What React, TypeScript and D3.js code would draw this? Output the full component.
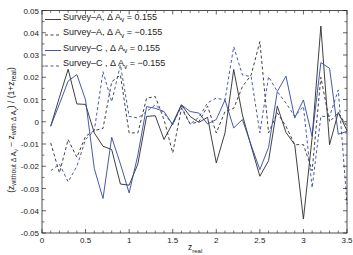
import React from "react";
import * as d3 from "d3";

const zReal = [0.1,0.2,0.3,0.4,0.5,0.6,0.7,0.8,0.9,1.0,1.1,1.2,1.3,1.4,1.5,1.6,1.7,1.8,1.9,2.0,2.1,2.2,2.3,2.4,2.5,2.6,2.7,2.8,2.9,3.0,3.1,3.2,3.3,3.4,3.5];

const surveyAPlus = [-0.002,0.011,0.0236,0.008,0.0078,-0.005,-0.011,-0.0125,-0.028,-0.0285,-0.019,0.0024,0.0027,-0.008,-0.0006,0.0076,0.0024,-0.0003,0.002,-0.0185,-0.005,0.0235,0.003,-0.011,-0.0245,-0.0175,0.007,-0.0048,-0.0103,-0.0437,-0.007,0.043,-0.0103,0.0042,-0.004];
const surveyAMinus = [-0.0095,-0.023,-0.008,-0.016,-0.0065,-0.004,-0.003,0.018,0.021,-0.005,-0.005,0.0106,0.0113,0.001,-0.014,0.006,-0.001,0.0,0.007,-0.005,0.0046,0.006,0.0158,0.021,0.036,-0.005,0.004,-0.002,-0.0103,-0.0103,-0.022,0.02,0.0,0.004,-0.002];
const surveyCPlus = [-0.002,0.008,0.0183,0.0212,0.0098,-0.021,-0.0345,-0.007,-0.019,-0.032,-0.015,0.0068,0.006,0.0046,-0.0013,0.0076,0.0046,0.0039,-0.001,0.001,0.0098,-0.0028,0.001,-0.0105,-0.0215,-0.0115,0.0136,0.0205,0.0017,0.0098,-0.0066,0.0266,0.024,-0.0056,-0.0043];
const surveyCMinus = [-0.022,-0.019,-0.027,-0.02,-0.008,-0.004,0.0225,0.009,0.0255,0.0024,0.0017,0.0046,0.0076,0.0039,-0.0013,0.0069,-0.001,0.002,0.0085,0.0106,0.0098,0.0337,0.021,0.0203,-0.005,0.0203,0.0136,0.0084,0.0024,0.0069,-0.0297,0.0024,0.0024,0.0143,-0.037];

const xTicks = [0, 0.5, 1, 1.5, 2, 2.5, 3, 3.5];
const xTickLabels = ["0", "0.5", "1", "1.5", "2", "2.5", "3", "3.5"];
const xMinorTicks = [0.1,0.2,0.3,0.4,0.6,0.7,0.8,0.9,1.1,1.2,1.3,1.4,1.6,1.7,1.8,1.9,2.1,2.2,2.3,2.4,2.6,2.7,2.8,2.9,3.1,3.2,3.3,3.4];
const yTicks = [-0.05,-0.04,-0.03,-0.02,-0.01,0,0.01,0.02,0.03,0.04,0.05];
const yTickLabels = ["-0.05","-0.04","-0.03","-0.02","-0.01","0","0.01","0.02","0.03","0.04","0.05"];
const yMinorTicks = [-0.045,-0.035,-0.025,-0.015,-0.005,0.005,0.015,0.025,0.035,0.045];

const seriesNames = ["Survey\u2013A, \u0394 A", "Survey\u2013A, \u0394 A", "Survey\u2013C , \u0394 A", "Survey\u2013C , \u0394 A"];
const seriesValues = ["= 0.155", "= \u22120.155", "= 0.155", "= \u22120.155"];

const BLACK = "#2a2a2a";
const BLUE = "#3446a0";

export default function App() {
  const W = 353, H = 255;
  const left = 42, right = 347, top = 10.5, bottom = 233;
  const x = d3.scaleLinear().domain([0, 3.5]).range([left, right]);
  const y = d3.scaleLinear().domain([-0.05, 0.05]).range([bottom, top]);
  const line = d3.line<number>().x((_, i) => x(zReal[i])).y((d) => y(d));

  const series = [
    { data: surveyAPlus, color: BLACK, dash: undefined },
    { data: surveyAMinus, color: BLACK, dash: "3,2.5" },
    { data: surveyCPlus, color: BLUE, dash: undefined },
    { data: surveyCMinus, color: BLUE, dash: "3,2.5" },
  ];
  const font = "'Liberation Sans', Arial, Helvetica, sans-serif";
  const major = 4, minor = 2.5;

  return (
    <svg width={W} height={H} style={{ position: "absolute", left: 0, top: 0, background: "#fff" }} fontFamily={font}>
      <rect x={0} y={0} width={W} height={H} fill="#fff" />
      <g>
        {series.map((s, i) => (
          <path key={i} d={line(s.data) || ""} fill="none" stroke={s.color} strokeWidth={0.9} strokeDasharray={s.dash} strokeLinejoin="miter" />
        ))}
      </g>
      <rect x={left} y={top} width={right - left} height={bottom - top} fill="none" stroke="#222" strokeWidth={0.8} />
      {xTicks.map((t, i) => (
        <g key={"xt" + i}>
          <line x1={x(t)} x2={x(t)} y1={bottom} y2={bottom - major} stroke="#222" strokeWidth={0.7} />
          <line x1={x(t)} x2={x(t)} y1={top} y2={top + major} stroke="#222" strokeWidth={0.7} />
          <text x={x(t)} y={bottom + 10} fontSize={8} textAnchor="middle" fill="#222">{xTickLabels[i]}</text>
        </g>
      ))}
      {xMinorTicks.map((t, i) => (
        <g key={"xm" + i}>
          <line x1={x(t)} x2={x(t)} y1={bottom} y2={bottom - minor} stroke="#222" strokeWidth={0.6} />
          <line x1={x(t)} x2={x(t)} y1={top} y2={top + minor} stroke="#222" strokeWidth={0.6} />
        </g>
      ))}
      {yTicks.map((t, i) => (
        <g key={"yt" + i}>
          <line x1={left} x2={left + major} y1={y(t)} y2={y(t)} stroke="#222" strokeWidth={0.7} />
          <line x1={right} x2={right - major} y1={y(t)} y2={y(t)} stroke="#222" strokeWidth={0.7} />
          <text x={left - 3} y={y(t) + 3} fontSize={8} textAnchor="end" fill="#222">{yTickLabels[i]}</text>
        </g>
      ))}
      {yMinorTicks.map((t, i) => (
        <g key={"ym" + i}>
          <line x1={left} x2={left + minor} y1={y(t)} y2={y(t)} stroke="#222" strokeWidth={0.6} />
          <line x1={right} x2={right - minor} y1={y(t)} y2={y(t)} stroke="#222" strokeWidth={0.6} />
        </g>
      ))}
      {series.map((s, i) => {
        const ly = 19.5 + i * 15.5;
        return (
          <g key={"lg" + i}>
            <line x1={45} x2={61} y1={ly} y2={ly} stroke={s.color} strokeWidth={0.9} strokeDasharray={s.dash} />
            <text x={63} y={ly} fontSize={9} fill="#222">
              {seriesNames[i]}
              <tspan fontSize={6.5} dy={2.5}>v</tspan>
              <tspan dy={-2.5}> {seriesValues[i]}</tspan>
            </text>
          </g>
        );
      })}
      <text x={188} y={250} fontSize={8.5} fill="#222">
        z<tspan fontSize={6} dy={2.5}>real</tspan>
      </text>
      <text transform={`translate(14, 130) rotate(-90)`} textAnchor="middle" fontSize={8.5} fill="#222">
        (z<tspan fontSize={6.8} dy={2.3}>without Δ A</tspan><tspan fontSize={5} dy={1.4}>v</tspan>
        <tspan dy={-3.7}> − z</tspan><tspan fontSize={6.8} dy={2.3}>with Δ A</tspan><tspan fontSize={5} dy={1.4}>v</tspan>
        <tspan dy={-3.7}>) / (1+z</tspan><tspan fontSize={6.8} dy={2.3}>real</tspan><tspan dy={-2.3}>)</tspan>
      </text>
    </svg>
  );
}
